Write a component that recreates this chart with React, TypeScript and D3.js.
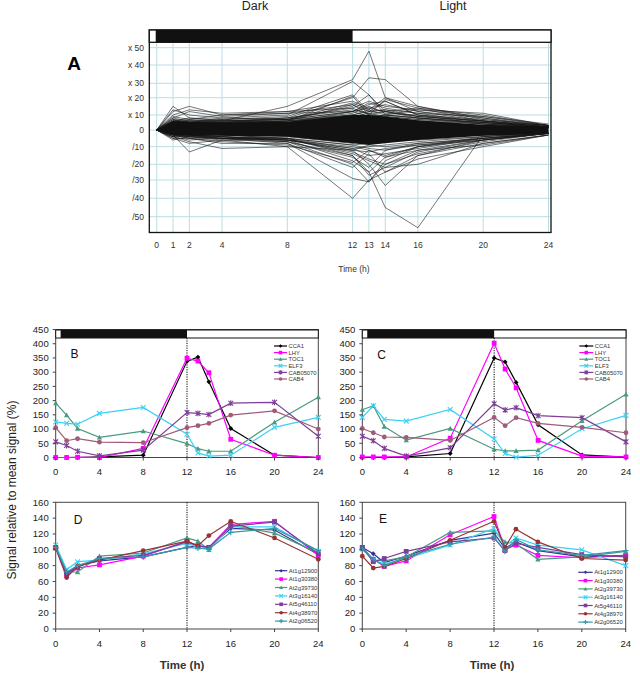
import React from 'react';
import * as d3 from 'd3';

// ---------- DATA ----------
const TIMES = [0, 1, 2, 4, 8, 12, 13, 14, 16, 20, 24];
const A_X_TICKS = [0, 1, 2, 4, 8, 12, 13, 14, 16, 20, 24];
const A_TICK_VALUES = [50, 40, 30, 20, 10, 0, -10, -20, -30, -40, -50];
const A_TICK_LABELS = ['x 50', 'x 40', 'x 30', 'x 20', 'x 10', '0', '/10', '/20', '/30', '/40', '/50'];
const A_CORE_UPPER = [0, 6, 5.5, 5, 5.5, 10, 10, 9, 6.5, 3.5, 2.2];
const A_CORE_LOWER = [0, -3, -3.5, -3.5, -4, -8, -9, -8, -6, -3.5, -2.2];
const A_LINES = [
  [0, 6, 5, 6, 15, 32, 48, 20, 12, 6, 2],
  [0, 4, 5, 8, 10, 31, 22, 12, 14, 10, 3],
  [0, 3, 4, 5, 8, 20, 33, 32, 15, 8, 2],
  [0, 5, 6, 7, 9, 22, 12, 18, 10, 4, 2],
  [0, 3, 3, 4, 6, 21, 10, 19, 14, 6, 2],
  [0, 4, 4, 5, 7, 15, 22, 10, 8, 4, 1],
  [0, 2, 3, 4, 5, 12, 16, 18, 10, 6, 2],
  [0, 2, 3, 3, 4, 8, 9, 10, 13, 11, 3],
  [0, 15, 8, 6, 5, 8, 6, 7, 5, 3, 2],
  [0, 12, 15, 10, 11, 12, 9, 8, 6, 4, 2],
  [0, 10, 13, 11, 12, 14, 10, 9, 7, 5, 2],
  [0, 8, 12, 9, 11, 16, 12, 13, 9, 6, 3],
  [0, 13, 10, 8, 7, 10, 8, 10, 8, 5, 2],
  [0, 9, 7, 10, 12, 18, 14, 16, 12, 8, 3],
  [0, 6, 8, 7, 8, 14, 18, 15, 13, 9, 4],
  [0, 7, 6, 6, 7, 17, 13, 20, 15, 7, 3],
  [0, -6, -4, -5, -4, -8, -6, -7, -5, -3, -2],
  [0, -3, -13, -6, -5, -9, -8, -7, -6, -4, -2],
  [0, -4, -7, -11, -10, -12, -9, -10, -8, -5, -2],
  [0, -3, -4, -6, -10, -40, -30, -25, -15, -8, -3],
  [0, -2, -3, -5, -8, -29, -31, -20, -12, -6, -2],
  [0, -3, -4, -4, -7, -20, -31, -18, -10, -5, -2],
  [0, -2, -3, -3, -5, -15, -25, -45, -56, -3, -1],
  [0, -2, -3, -4, -6, -12, -20, -33, -15, -6, -2],
  [0, -2, -2, -3, -5, -14, -18, -22, -20, -8, -3],
  [0, -4, -6, -5, -6, -18, -25, -16, -12, -9, -3],
  [0, -3, -5, -8, -8, -22, -14, -25, -17, -10, -3],
  [0, -5, -8, -6, -7, -16, -22, -12, -9, -6, -2],
  [0, -2, -4, -5, -6, -13, -17, -20, -14, -7, -2],
  [0, -3, -3, -4, -5, -11, -15, -14, -11, -5, -2],
  [0, -5, -5, -7, -9, -19, -12, -16, -10, -4, -1],
  [0, -2, -3, -5, -7, -15, -27, -22, -13, -6, -2],
  [0, 5, 5, 6, 8, 13, 11, 12, 9, 6, 2],
  [0, 7, 5, 5, 6, 11, 15, 11, 10, 7, 3],
  [0, 4, 6, 6, 7, 12, 17, 14, 11, 5, 2],
  [0, 3, 4, 4, 5, 10, 12, 13, 11, 9, 3],
  [0, 6, 5, 4, 6, 16, 10, 12, 8, 5, 2],
  [0, 8, 6, 5, 6, 9, 11, 9, 7, 4, 2],
  [0, -4, -4, -4, -6, -12, -13, -11, -9, -5, -2],
  [0, -3, -5, -5, -6, -10, -12, -15, -10, -6, -2],
  [0, 6, 7, 6, 7, 12, 14, 12, 9, 6, 3],
  [0, -3, -4, -5, -5, -9, -11, -12, -8, -5, -2],
  [0, 5, 4, 5, 6, 10, 13, 10, 8, 5, 2],
  [0, -4, -3, -4, -6, -11, -10, -9, -7, -4, -2],
];

const CLOCK_GENES = ['CCA1', 'LHY', 'TOC1', 'ELF3', 'CAB05070', 'CAB4'];
const B_CCA1 = [0, 0, 0, 2, 8, 338, 353, 266, 102, 8, 0];
const B_LHY = [0, 0, 1, 0, 32, 349, 339, 298, 64, 8, 0];
const B_TOC1 = [191, 149, 102, 71, 93, 49, 31, 22, 22, 124, 212];
const B_ELF3 = [125, 120, 117, 155, 176, 82, 16, 5, 8, 106, 141];
const B_CAB05070 = [55, 42, 22, 6, 26, 158, 155, 151, 191, 194, 75];
const B_CAB4 = [105, 59, 66, 54, 52, 105, 112, 120, 149, 164, 100];

const C_CCA1 = [0, 0, 0, 2, 14, 350, 336, 264, 115, 9, 1];
const C_LHY = [2, 2, 2, 2, 68, 402, 311, 245, 60, 5, 2];
const C_TOC1 = [168, 182, 109, 61, 102, 29, 23, 23, 26, 129, 222];
const C_ELF3 = [141, 182, 134, 128, 169, 65, 14, 1, 8, 101, 148];
const C_CAB05070 = [75, 59, 32, 5, 34, 189, 167, 175, 147, 140, 55];
const C_CAB4 = [102, 87, 72, 71, 60, 141, 112, 140, 120, 106, 87];

const CONTROL_GENES = ['At1g12900', 'At1g30380', 'At2g39730', 'At3g16140', 'At5g46110', 'At4g38970', 'At2g06520'];
const D_At1g12900 = [103, 70, 80, 86, 91, 103, 105, 103, 127, 125, 94];
const D_At1g30380 = [103, 68, 77, 81, 92, 111, 105, 103, 132, 136, 93];
const D_At2g39730 = [104, 72, 72, 92, 96, 115, 111, 100, 131, 121, 96];
const D_At3g16140 = [106, 75, 85, 87, 95, 108, 103, 101, 129, 129, 98];
const D_At5g46110 = [103, 70, 78, 89, 93, 110, 105, 103, 130, 135, 95];
const D_At4g38970 = [102, 65, 79, 87, 99, 111, 105, 118, 136, 115, 88];
const D_At2g06520 = [103, 72, 80, 89, 91, 103, 102, 101, 122, 127, 99];

const E_At1g12900 = [103, 95, 84, 92, 112, 121, 102, 110, 99, 91, 93];
const E_At1g30380 = [103, 88, 79, 86, 119, 142, 101, 106, 93, 90, 93];
const E_At2g39730 = [101, 87, 86, 91, 122, 124, 110, 108, 88, 91, 98];
const E_At3g16140 = [102, 87, 82, 89, 106, 127, 105, 115, 106, 100, 80];
const E_At5g46110 = [103, 85, 89, 98, 110, 115, 99, 108, 103, 94, 91];
const E_At4g38970 = [92, 77, 79, 89, 112, 136, 103, 126, 110, 89, 87];
const E_At2g06520 = [101, 88, 80, 91, 107, 116, 98, 113, 100, 93, 99];

const BC_Y_TICKS = [0, 50, 100, 150, 200, 250, 300, 350, 400, 450];
const DE_Y_TICKS = [0, 20, 40, 60, 80, 100, 120, 140, 160];
const BCDE_X_TICKS = [0, 4, 8, 12, 16, 20, 24];

// ---------- STYLES ----------
const CLOCK_STYLE = [
  { color: '#000000', shape: 'diamond' },
  { color: '#ff00ff', shape: 'square' },
  { color: '#4a9a80', shape: 'triangle' },
  { color: '#3cd0f5', shape: 'x' },
  { color: '#7d3f98', shape: 'asterisk' },
  { color: '#a05a7a', shape: 'circle' },
];
const CONTROL_STYLE = [
  { color: '#333399', shape: 'diamond' },
  { color: '#ff00ff', shape: 'square' },
  { color: '#4a9a80', shape: 'triangle' },
  { color: '#3cd0f5', shape: 'x' },
  { color: '#7d3f98', shape: 'square' },
  { color: '#993333', shape: 'circle' },
  { color: '#3399aa', shape: 'plus' },
];

const FONT = 'Arial, "Liberation Sans", sans-serif';

function Marker({ shape, x, y, color, s = 2.4 }: any) {
  switch (shape) {
    case 'diamond':
      return <path d={`M${x},${y - s}L${x + s},${y}L${x},${y + s}L${x - s},${y}Z`} fill={color} />;
    case 'square':
      return <rect x={x - s} y={y - s} width={2 * s} height={2 * s} fill={color} />;
    case 'triangle':
      return <path d={`M${x},${y - s * 1.1}L${x + s * 1.1},${y + s * 0.9}L${x - s * 1.1},${y + s * 0.9}Z`} fill={color} />;
    case 'x':
      return <path d={`M${x - s},${y - s}L${x + s},${y + s}M${x - s},${y + s}L${x + s},${y - s}`} stroke={color} strokeWidth={1.1} />;
    case 'asterisk':
      return <path d={`M${x - s},${y - s}L${x + s},${y + s}M${x - s},${y + s}L${x + s},${y - s}M${x},${y - s * 1.2}L${x},${y + s * 1.2}`} stroke={color} strokeWidth={1.1} />;
    case 'plus':
      return <path d={`M${x - s * 1.2},${y}L${x + s * 1.2},${y}M${x},${y - s * 1.2}L${x},${y + s * 1.2}`} stroke={color} strokeWidth={1.2} />;
    default:
      return <circle cx={x} cy={y} r={s} fill={color} />;
  }
}

function PanelA() {
  const x = d3.scaleLinear().domain([0, 24]).range([156.7, 548.5]);
  const y = d3.scaleLinear()
    .domain([-50, -40, -30, -20, -10, 0, 10, 20, 30, 40, 50])
    .range([216.7, 198.3, 180, 164.3, 146.7, 130, 115, 97.7, 83.3, 65, 47.7]);
  const left = 149.3, right = 551, top = 30, barB = 42.3, bottom = 232.5;
  const line = d3.line<number>().x((_, i) => x(TIMES[i])).y((v) => y(v));
  const area = d3.area<number>().x((_, i) => x(TIMES[i])).y0((_, i) => y(A_CORE_LOWER[i])).y1((v) => y(v));
  return (
    <g>
      <text x={255} y={10} fontSize={12.5} textAnchor="middle" fontFamily={FONT} fill="#222">Dark</text>
      <text x={453} y={10} fontSize={12.5} textAnchor="middle" fontFamily={FONT} fill="#222">Light</text>
      <text x={74} y={70} fontSize={19} fontWeight="bold" textAnchor="middle" fontFamily={FONT}>A</text>
      {A_X_TICKS.map((t) => (
        <line key={'vg' + t} x1={x(t)} x2={x(t)} y1={barB} y2={bottom} stroke="#b9dde3" strokeWidth={1} />
      ))}
      {A_TICK_VALUES.map((v) => (
        <line key={'hg' + v} x1={left} x2={right} y1={y(v)} y2={y(v)} stroke="#b9dde3" strokeWidth={1} />
      ))}
      {A_LINES.map((d, i) => (
        <path key={'l' + i} d={line(d) || ''} fill="none" stroke="#1a1a1a" strokeWidth={0.6} />
      ))}
      <path d={area(A_CORE_UPPER) || ''} fill="#111" />
      <rect x={left} y={top} width={right - left} height={bottom - top} fill="none" stroke="#111" strokeWidth={1.3} />
      <rect x={left} y={top} width={right - left} height={barB - top} fill="#fff" stroke="#111" strokeWidth={1.3} />
      <rect x={x(-0.06)} y={top} width={x(12) - x(-0.06)} height={barB - top} fill="#111" />
      {A_TICK_VALUES.map((v, i) => (
        <text key={'yl' + v} x={144} y={y(v) + 3} fontSize={8.5} textAnchor="end" fontFamily={FONT} fill="#333">{A_TICK_LABELS[i]}</text>
      ))}
      {A_X_TICKS.map((t) => (
        <text key={'xl' + t} x={x(t)} y={248} fontSize={8.5} textAnchor="middle" fontFamily={FONT} fill="#333">{t}</text>
      ))}
      <text x={354} y={272} fontSize={8.5} textAnchor="middle" fontFamily={FONT} fill="#333">Time (h)</text>
    </g>
  );
}

function LinePanel({ x0, x1, yTop, yBottom, yMax, yTicks, series, names, styles, letter, letterPos, legend, bar }: any) {
  const x = d3.scaleLinear().domain([0, 24]).range([x0, x1]);
  const y = d3.scaleLinear().domain([0, yMax]).range([yBottom, yTop]);
  const line = d3.line<number>().x((_, i) => x(TIMES[i])).y((v) => y(v));
  const barTop = yTop + 0.5, barBottom = yTop + 8.5;
  return (
    <g>
      <rect x={x0} y={yTop} width={x1 - x0} height={yBottom - yTop} fill="#fff" stroke="#444" strokeWidth={1} />
      <line x1={x(12)} x2={x(12)} y1={bar ? barBottom : yTop} y2={yBottom} stroke="#000" strokeWidth={1} strokeDasharray="1.2,1.2" />
      {series.map((d: number[], si: number) => (
        <g key={'s' + si}>
          <path d={line(d) || ''} fill="none" stroke={styles[si].color} strokeWidth={1.2} />
          {d.map((v, i) => (
            <Marker key={i} shape={styles[si].shape} x={x(TIMES[i])} y={y(v)} color={styles[si].color} />
          ))}
        </g>
      ))}
      {bar && (
        <g>
          <rect x={x0} y={barTop} width={x1 - x0} height={barBottom - barTop} fill="#fff" stroke="#111" strokeWidth={1} />
          <rect x={x(0.45)} y={barTop} width={x(12) - x(0.45)} height={barBottom - barTop} fill="#111" />
        </g>
      )}
      {yTicks.map((v: number) => (
        <g key={'yt' + v}>
          <line x1={x0 - 3} x2={x0} y1={y(v)} y2={y(v)} stroke="#444" />
          <text x={x0 - 7} y={y(v) + 3.3} fontSize={9.5} textAnchor="end" fontFamily={FONT} fill="#222">{v}</text>
        </g>
      ))}
      {BCDE_X_TICKS.map((t: number) => (
        <g key={'xt' + t}>
          <line x1={x(t)} x2={x(t)} y1={yBottom} y2={yBottom + 3} stroke="#444" />
          <text x={x(t)} y={yBottom + 17.5} fontSize={9.5} textAnchor="middle" fontFamily={FONT} fill="#222">{t}</text>
        </g>
      ))}
      <text x={letterPos[0]} y={letterPos[1]} fontSize={12} textAnchor="middle" fontFamily={FONT} fill="#111">{letter}</text>
      {names.map((n: string, i: number) => {
        const ly = legend.y0 + i * legend.dy;
        return (
          <g key={'lg' + n}>
            <line x1={legend.x0} x2={legend.x1} y1={ly} y2={ly} stroke={styles[i].color} strokeWidth={1.2} />
            <Marker shape={styles[i].shape} x={(legend.x0 + legend.x1) / 2} y={ly} color={styles[i].color} s={1.8} />
            <text x={legend.x1 + 1.5} y={ly + 2.1} fontSize={legend.fs} fontFamily={FONT} fill="#333">{n}</text>
          </g>
        );
      })}
    </g>
  );
}

export default function App() {
  return (
    <svg width={640} height={679} style={{ position: 'absolute', left: 0, top: 0, background: '#fff' }}>
      <rect width={640} height={679} fill="#fff" />
      <PanelA />
      <LinePanel x0={55.7} x1={318.3} yTop={329.5} yBottom={457.5} yMax={450} yTicks={BC_Y_TICKS}
        series={[B_CCA1, B_LHY, B_TOC1, B_ELF3, B_CAB05070, B_CAB4]} names={CLOCK_GENES} styles={CLOCK_STYLE}
        letter="B" letterPos={[74.5, 357.5]} bar={true}
        legend={{ x0: 274, x1: 287, y0: 346, dy: 6.6, fs: 5.8 }} />
      <LinePanel x0={362.3} x1={626} yTop={329.5} yBottom={457.5} yMax={450} yTicks={BC_Y_TICKS}
        series={[C_CCA1, C_LHY, C_TOC1, C_ELF3, C_CAB05070, C_CAB4]} names={CLOCK_GENES} styles={CLOCK_STYLE}
        letter="C" letterPos={[381.7, 358.5]} bar={true}
        legend={{ x0: 579.3, x1: 593.3, y0: 346, dy: 6.6, fs: 5.8 }} />
      <LinePanel x0={55.7} x1={318.3} yTop={502.3} yBottom={629} yMax={160} yTicks={DE_Y_TICKS}
        series={[D_At1g12900, D_At1g30380, D_At2g39730, D_At3g16140, D_At5g46110, D_At4g38970, D_At2g06520]}
        names={CONTROL_GENES} styles={CONTROL_STYLE}
        letter="D" letterPos={[78, 524]} bar={false}
        legend={{ x0: 275, x1: 287.3, y0: 570.7, dy: 8.4, fs: 5.9 }} />
      <LinePanel x0={362.3} x1={625.7} yTop={502.3} yBottom={629} yMax={160} yTicks={DE_Y_TICKS}
        series={[E_At1g12900, E_At1g30380, E_At2g39730, E_At3g16140, E_At5g46110, E_At4g38970, E_At2g06520]}
        names={CONTROL_GENES} styles={CONTROL_STYLE}
        letter="E" letterPos={[383, 523]} bar={false}
        legend={{ x0: 578.3, x1: 592.7, y0: 572.3, dy: 8.3, fs: 5.9 }} />
      <text x={182} y={669} fontSize={11.5} fontWeight="bold" textAnchor="middle" fontFamily={FONT} fill="#333">Time (h)</text>
      <text x={492} y={669} fontSize={11.5} fontWeight="bold" textAnchor="middle" fontFamily={FONT} fill="#333">Time (h)</text>
      <text transform="translate(16,490) rotate(-90)" fontSize={12} textAnchor="middle" fontFamily={FONT} fill="#222">Signal relative to mean signal (%)</text>
    </svg>
  );
}
